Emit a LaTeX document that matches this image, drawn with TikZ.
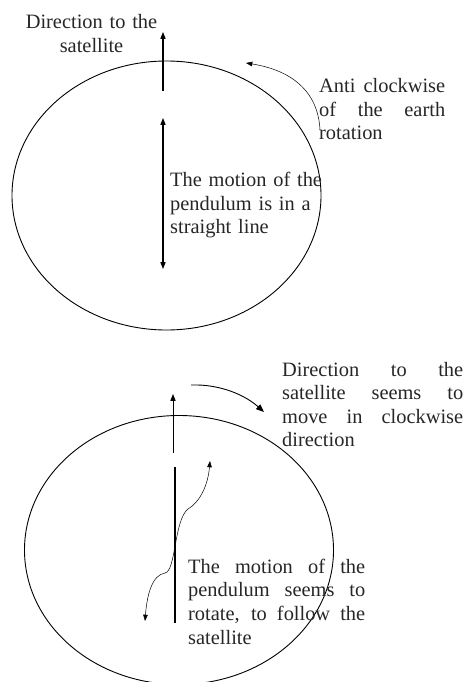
\documentclass[tikz,border=0pt]{standalone}
\usepackage{fontspec}
\setmainfont{Liberation Serif}
\usetikzlibrary{arrows.meta, shapes.geometric}
\hyphenpenalty=10000
\exhyphenpenalty=10000
\tolerance=9999

\begin{document}
\begin{tikzpicture}[
  x=1pt, y=-1pt,
  font=\fontsize{20.4}{23.6}\selectfont,
  earth/.style={draw, ellipse, line width=0.9pt, minimum width=309pt, minimum height=269pt, inner sep=0pt},
  txt/.style={inner sep=0pt, text=black!85},
  jtxt/.style={txt, align=justify},
  arr/.style={-{Triangle[length=2.4mm, width=1.8mm]}, line width=1.1pt},
  twist/.style={-{Triangle[length=2.2mm, width=1.6mm]}, line width=0.5pt},
  turn/.style={-{Triangle[length=2.8mm, width=2.2mm]}, line width=0.9pt}
]
\useasboundingbox (0,0) rectangle (465,682);

% upper picture: the earth with the pendulum swinging straight
\node[earth] (earthA) at (166.5,195.5) {};
\node[txt, anchor=base, align=center, text width=150pt] (satA) at (91.5,29) {Direction to the\\satellite};
\node[jtxt, anchor=base west, text width=126pt] (rotA) at (319,92.7) {Anti clockwise of the earth rotation};
\node[txt, anchor=base west, align=left, text width=160pt] (pendA) at (170,186.7) {The motion of the\\pendulum is in a\\straight line};

\coordinate (dirA0) at (163,91);
\coordinate (dirA1) at (163,32);
\coordinate (swA0) at (163,118);
\coordinate (swA1) at (163,269);
\coordinate (rotA0) at (320,130);
\coordinate (rotA1) at (246,63);

\draw[arr] (dirA0) -- (dirA1);
\draw[arr, {Triangle[length=2.4mm, width=1.8mm]}-{Triangle[length=2.4mm, width=1.8mm]}] (swA0) -- (swA1);
\draw[twist] (rotA0) .. controls (318,90) and (290,70) .. (rotA1);

% lower picture: the swing seems to follow the satellite
\node[earth] (earthB) at (179,550) {};
\node[jtxt, anchor=base west, text width=181pt] (satB) at (282,376) {Direction to the satellite seems to move in clockwise direction};
\node[jtxt, anchor=base west, text width=177pt] (pendB) at (188,573.3) {The motion of the pendulum seems to rotate, to follow the satellite};

\coordinate (dirB0) at (173,453);
\coordinate (dirB1) at (173,394);
\coordinate (rodB0) at (175,467);
\coordinate (rodB1) at (175,623);
\coordinate (swB0) at (145,621);
\coordinate (swB1) at (210,461);
\coordinate (turnB0) at (191,385);
\coordinate (turnB1) at (264,412);

\draw[arr, line width=0.9pt] (dirB0) -- (dirB1);
\draw[line width=2.4pt] (rodB0) -- (rodB1);
\draw[twist, {Triangle[length=2.2mm, width=1.6mm]}-{Triangle[length=2.2mm, width=1.6mm]}]
  (swB0) .. controls (147,595) and (152,575) .. (165,573)
  .. controls (176,571) and (174,520) .. (188,509)
  .. controls (200,502) and (208,485) .. (swB1);
\draw[turn] (turnB0) .. controls (220,384) and (245,395) .. (turnB1);
\end{tikzpicture}
\end{document}
